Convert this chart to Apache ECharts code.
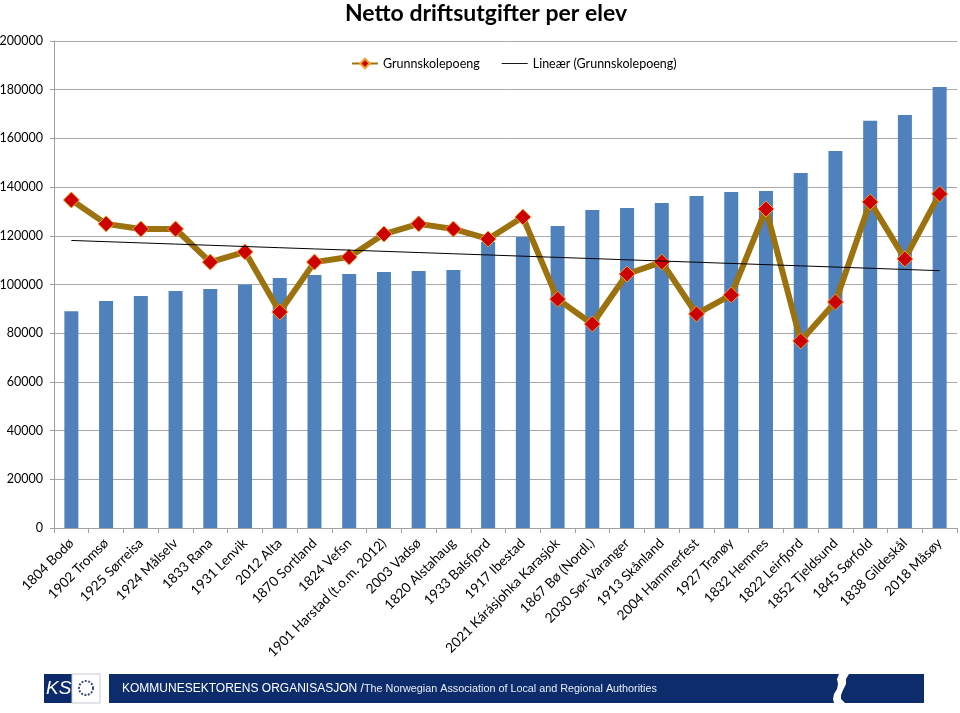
<!DOCTYPE html>
<html><head><meta charset="utf-8">
<script src="https://cdn.jsdelivr.net/npm/echarts@6/dist/echarts.min.js"></script>
<style>html,body{margin:0;padding:0;background:#fff}#c{width:960px;height:713px}</style>
</head><body><div id="c"></div>
<script>
const categories = ["1804 Bodø","1902 Tromsø","1925 Sørreisa","1924 Målselv","1833 Rana","1931 Lenvik","2012 Alta","1870 Sortland","1824 Vefsn","1901 Harstad (t.o.m. 2012)","2003 Vadsø","1820 Alstahaug","1933 Balsfjord","1917 Ibestad","2021 Kárásjohka Karasjok","1867 Bø (Nordl.)","2030 Sør-Varanger","1913 Skånland","2004 Hammerfest","1927 Tranøy","1832 Hemnes","1822 Leirfjord","1852 Tjeldsund","1845 Sørfold","1838 Gildeskål","2018 Måsøy"];
const driftsutgifter = [89000,93200,95300,97300,98200,100000,102700,103900,104300,105100,105500,106000,117500,119500,124000,130600,131400,133500,136300,138000,138400,145800,154800,167200,169600,181100];
const grunnskolepoeng = [134700,124900,122800,122800,109200,113400,88700,109200,111300,120700,124900,122800,118700,127700,94000,83800,104300,109200,87900,95700,131000,76800,92800,133900,110500,137200];
const yTicks = [0,20000,40000,60000,80000,100000,120000,140000,160000,180000,200000];

// Excel-style linear trendline of Grunnskolepoeng
const n = grunnskolepoeng.length;
let sx=0, sy=0, sxy=0, sxx=0;
grunnskolepoeng.forEach((v,i)=>{const x=i+1; sx+=x; sy+=v; sxy+=x*v; sxx+=x*x;});
const slope = (n*sxy - sx*sy)/(n*sxx - sx*sx);
const icpt = (sy - slope*sx)/n;
const trend = grunnskolepoeng.map((v,i)=>icpt + slope*(i+1));

const FONT = 'Lato, "Open Sans", sans-serif';
const chart = echarts.init(document.getElementById('c'), null, {renderer:'canvas'});
chart.setOption({
  animation:false,
  backgroundColor:'#fff',
  title:{text:'Netto driftsutgifter per elev', left:481, textAlign:'center', top:-3,
    textStyle:{fontFamily:FONT, fontWeight:'bold', fontSize:23, color:'#000'}},
  legend:{top:52, left:346, itemGap:22, itemWidth:26, itemHeight:12,
    textStyle:{fontFamily:FONT, fontSize:12.5, color:'#000'},
    data:[{name:'Grunnskolepoeng'},
          {name:'Lineær (Grunnskolepoeng)', icon:'path://M0 0H40V1.4H0Z'}]},
  grid:{left:54, right:3, top:41, bottom:185, containLabel:false, outerBoundsMode:'none'},
  xAxis:{type:'category', data:categories, boundaryGap:true,
    axisLine:{lineStyle:{color:'#a0a0a0', width:1}},
    axisTick:{show:true, length:5, lineStyle:{color:'#a0a0a0'}},
    axisLabel:{rotate:45, interval:0, margin:13, fontFamily:FONT, fontSize:13.6, color:'#000'}},
  yAxis:{type:'value', min:0, max:200000, interval:20000,
    axisLine:{show:true, lineStyle:{color:'#a0a0a0'}},
    axisTick:{show:true, length:4, lineStyle:{color:'#a0a0a0'}},
    axisLabel:{fontFamily:FONT, fontSize:12.5, color:'#000', margin:11,
      formatter:v=> yTicks.includes(v)? String(v):''},
    splitLine:{lineStyle:{color:'#a8a8a8', width:1}}},
  series:[
    {name:'Netto driftsutgifter', type:'bar', data:driftsutgifter, barWidth:14,
      itemStyle:{color:'#4f81bd'}, z:1},
    {name:'Grunnskolepoeng', type:'line', data:grunnskolepoeng, z:3,
      lineStyle:{color:'#9c720f', width:6},
      symbol:'diamond', symbolSize:16, showSymbol:true,
      itemStyle:{color:'#cc0000', borderColor:'#f0a030', borderWidth:1}},
    {name:'Lineær (Grunnskolepoeng)', type:'line', data:trend, z:4,
      lineStyle:{color:'#000', width:1}, itemStyle:{color:'#000'},
      symbol:'none', showSymbol:false}
  ],
  graphic:[
    {type:'rect', shape:{x:44,y:674,width:28,height:29}, style:{fill:'#0b2a6b'}},
    {type:'text', style:{x:46,y:679,text:'KS',fill:'#fff',font:'italic 19px "Liberation Sans", sans-serif'}},
    {type:'rect', shape:{x:72,y:674,width:28,height:29}, style:{fill:'#fff',stroke:'#c8c8d4',lineWidth:1}},
    {type:'circle', shape:{cx:86,cy:688,r:7}, style:{fill:'none',stroke:'#3a4a7a',lineWidth:2,lineDash:[2,1.5]}},
    {type:'rect', shape:{x:109,y:674,width:815,height:29}, style:{fill:'#0d2c6c'}},
    {type:'text', style:{x:122,y:683,text:'KOMMUNESEKTORENS ORGANISASJON /',fill:'#fff',font:'12px "Liberation Sans", sans-serif'}},
    {type:'text', style:{x:364,y:684,text:'The Norwegian Association of Local and Regional Authorities',fill:'#e8ecf4',font:'10.8px "Liberation Sans", sans-serif'}},
    {type:'polygon', shape:{points:[[839,674],[849,674],[846,679],[846,684],[843,690],[841,695],[841,699],[845,703],[834,703],[833,699],[834,694],[837,689],[838,684],[837,679]]}, style:{fill:'#fff'}}
  ]
});
</script></body></html>
